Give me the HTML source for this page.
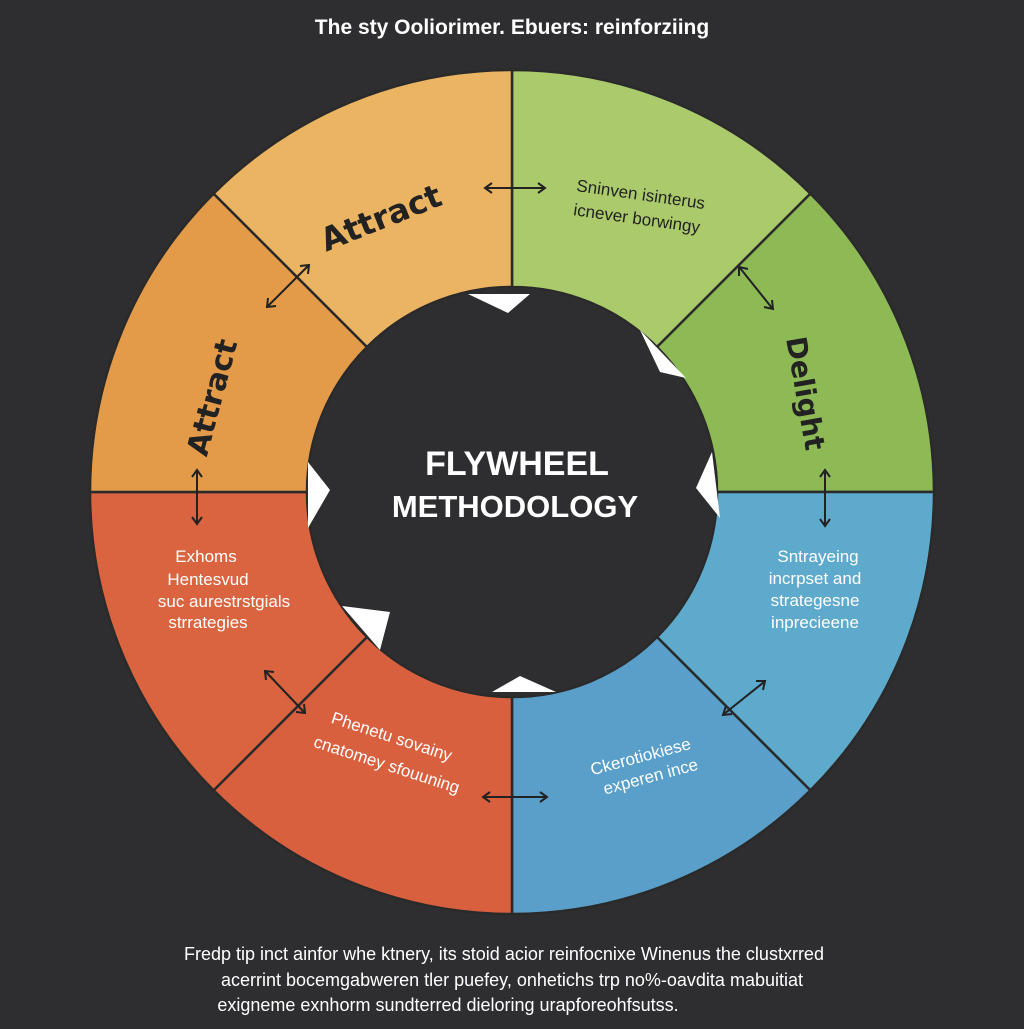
<!DOCTYPE html>
<html><head><meta charset="utf-8"><style>
html,body{margin:0;padding:0;background:#2e2e30;}
body{width:1024px;height:1024px;overflow:hidden;font-family:"Liberation Sans",sans-serif;}
</style></head><body>
<svg width="1024" height="1024" viewBox="0 0 1024 1024" xmlns="http://www.w3.org/2000/svg" font-family="Liberation Sans, sans-serif">
<rect width="1024" height="1024" fill="#2e2e30"/>
<text x="512" y="34" fill="#fff" font-size="21" font-weight="600" text-anchor="middle">The sty Ooliorimer. Ebuers: reinforziing</text>
<g stroke="#2a2a2a" stroke-width="2.5">
<path d="M512,70 A422,422 0 0 1 810.4,193.6 L657,347 A205,205 0 0 0 512,287 Z" fill="#abca6b"/>
<path d="M810.4,193.6 A422,422 0 0 1 934,492 L717,492 A205,205 0 0 0 657,347 Z" fill="#8dba55"/>
<path d="M934,492 A422,422 0 0 1 810.4,790.4 L657,637 A205,205 0 0 0 717,492 Z" fill="#5eaacd"/>
<path d="M810.4,790.4 A422,422 0 0 1 512,914 L512,697 A205,205 0 0 0 657,637 Z" fill="#599fc9"/>
<path d="M512,914 A422,422 0 0 1 213.6,790.4 L367,637 A205,205 0 0 0 512,697 Z" fill="#d9603f"/>
<path d="M213.6,790.4 A422,422 0 0 1 90,492 L307,492 A205,205 0 0 0 367,637 Z" fill="#da643f"/>
<path d="M90,492 A422,422 0 0 1 213.6,193.6 L367,347 A205,205 0 0 0 307,492 Z" fill="#e39b4a"/>
<path d="M213.6,193.6 A422,422 0 0 1 512,70 L512,287 A205,205 0 0 0 367,347 Z" fill="#ebb462"/>
</g>
<circle cx="512" cy="492" r="204" fill="#2e2e30"/>
<text x="517" y="475" fill="#fff" font-size="34" font-weight="bold" text-anchor="middle">FLYWHEEL</text>
<text x="515" y="517" fill="#fff" font-size="31" font-weight="bold" text-anchor="middle">METHODOLOGY</text>
<g fill="#fff">
<polygon points="468,294 530,294 508,313"/>
<polygon points="640,330 686,378 660,372"/>
<polygon points="712,452 720,518 696,488"/>
<polygon points="308,462 330,490 308,528"/>
<polygon points="342,606 390,612 380,650"/>
<polygon points="492,692 556,692 520,676"/>
</g>
<g fill="#222" font-weight="bold" font-family="DejaVu Sans, sans-serif">
<text x="385" y="228" font-size="32" transform="rotate(-22 385 228)" text-anchor="middle">Attract</text>
<text x="222" y="400" font-size="30" transform="rotate(-75 222 400)" text-anchor="middle">Attract</text>
<text x="796" y="395" font-size="28" transform="rotate(80 796 395)" text-anchor="middle">Delight</text>
</g>
<g fill="#222" font-size="17" text-anchor="middle">
<text x="640" y="200" transform="rotate(8 640 200)">Sninven isinterus</text>
<text x="636" y="224" transform="rotate(8 636 224)">icnever borwingy</text>
</g>
<g fill="#fff" font-size="17" text-anchor="middle">
<text x="206" y="562">Exhoms</text>
<text x="208" y="585">Hentesvud</text>
<text x="224" y="607">suc aurestrstgials</text>
<text x="208" y="628">strrategies</text>
<text x="818" y="562">Sntrayeing</text>
<text x="815" y="584">incrpset and</text>
<text x="815" y="606">strategesne</text>
<text x="815" y="628">inprecieene</text>
<text x="390" y="742" transform="rotate(18 390 742)">Phenetu sovainy</text>
<text x="385" y="770" transform="rotate(18 385 770)">cnatomey sfouuning</text>
<text x="642" y="762" transform="rotate(-15 642 762)">Ckerotiokiese</text>
<text x="652" y="782" transform="rotate(-15 652 782)">experen ince</text>
</g>
<g stroke="#222" stroke-width="2" fill="none">
<line x1="486" y1="188" x2="544" y2="188"/><path d="M492,183 L485,188 L492,193 M538,183 L545,188 L538,193"/>
<line x1="268" y1="306" x2="308" y2="266"/><path d="M268,298 L267,307 L276,306 M300,266 L309,265 L308,274"/>
<line x1="197" y1="470" x2="197" y2="524"/><path d="M192,477 L197,470 L202,477 M192,517 L197,524 L202,517"/>
<line x1="740" y1="268" x2="772" y2="308"/><path d="M739,276 L739,267 L748,269 M764,307 L773,309 L772,300"/>
<line x1="825" y1="470" x2="825" y2="526"/><path d="M820,477 L825,470 L830,477 M820,519 L825,526 L830,519"/>
<line x1="724" y1="714" x2="764" y2="682"/><path d="M726,706 L723,715 L732,714 M756,681 L765,681 L763,690"/>
<line x1="484" y1="797" x2="546" y2="797"/><path d="M490,792 L483,797 L490,802 M540,792 L547,797 L540,802"/>
<line x1="266" y1="672" x2="304" y2="712"/><path d="M266,680 L265,671 L274,672 M296,712 L305,713 L304,704"/>
</g>
<g fill="#fff" font-size="18" text-anchor="middle">
<text x="504" y="960">Fredp tip inct ainfor whe ktnery, its stoid acior reinfocnixe Winenus the clustxrred</text>
<text x="512" y="986">acerrint bocemgabweren tler puefey, onhetichs trp no%-oavdita mabuitiat</text>
<text x="448" y="1011">exigneme exnhorm sundterred dieloring urapforeohfsutss.</text>
</g>
</svg>
</body></html>
